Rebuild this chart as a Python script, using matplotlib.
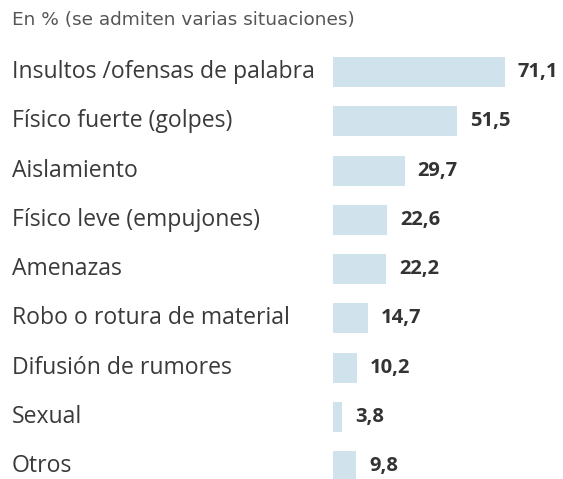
import matplotlib
matplotlib.use("Agg")
import matplotlib.pyplot as plt
from matplotlib.transforms import blended_transform_factory

# Data
categories = ["Insultos /ofensas de palabra", "Físico fuerte (golpes)", "Aislamiento",
              "Físico leve (empujones)", "Amenazas", "Robo o rotura de material",
              "Difusión de rumores", "Sexual", "Otros"]
values = [71.1, 51.5, 29.7, 22.6, 22.2, 14.7, 10.2, 3.8, 9.8]
subtitle = "En % (se admiten varias situaciones)"

W, H = 563, 479
fig = plt.figure(figsize=(W / 100, H / 100), dpi=100)
fig.patch.set_facecolor("white")

# axes covers the bar area, full height
ax = fig.add_axes([332.5 / W, 0, 1 - 332.5 / W, 1])
ax.set_xlim(0, (W - 332.5) / 2.426)
step = 49.25
ax.set_ylim((H - 72) / step, -72 / step)
ax.axis("off")

ypos = list(range(len(categories)))
ax.barh(ypos, values, height=30 / step, color="#d0e3ec", edgecolor="none")

for y, v in zip(ypos, values):
    ax.annotate(f"{v:.1f}".replace(".", ","), (v, y), xytext=(13, 0),
                textcoords="offset pixels", ha="left", va="center",
                fontsize=14.5, fontweight="bold", color="#333333",
                family="Open Sans")

tr = blended_transform_factory(fig.transFigure, ax.transData)
for y, lab in zip(ypos, categories):
    ax.text(12 / W, y, lab, transform=tr, ha="left", va="center",
            fontsize=16.6, color="#3a3a3a", family="Open Sans")

fig.text(12 / W, 1 - 20 / H, subtitle, ha="left", va="center",
         fontsize=13.3, color="#555555", family="DejaVu Sans")

fig.savefig("out.png", dpi=100)
